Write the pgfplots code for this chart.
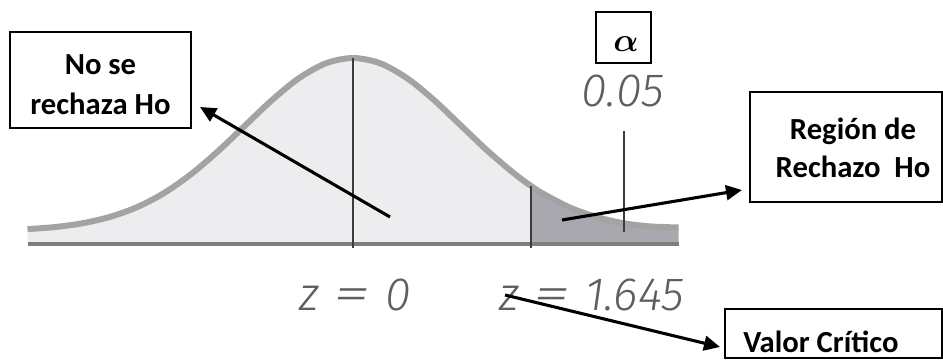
\documentclass[border=0pt]{standalone}
\usepackage{amsmath}
\usepackage{bm}
\usepackage{graphicx}
\usepackage{pgfplots}
\pgfplotsset{compat=1.18}
\usepackage{pgfplotstable}
\usepackage{fontspec}
\setmainfont{Carlito}
\newfontfamily\zfont{Fira Sans Light Italic}
\usetikzlibrary{arrows.meta}

\definecolor{areaA}{HTML}{EDEDF0}
\definecolor{areaR}{HTML}{A8A8AE}
\definecolor{curveC}{HTML}{A3A3A3}
\definecolor{baseC}{HTML}{7E7E7E}
\definecolor{lineC}{HTML}{3C3C3C}
\definecolor{labelC}{HTML}{5E5E5E}

% curva: z, altura sobre la base (px)
\pgfplotstableread{
z      y
-3.00  14.9
-2.75  16.9
-2.50  20.6
-2.25  26.8
-2.00  36.4
-1.75  50.4
-1.50  69.2
-1.25  92.2
-1.00  117.9
-0.75  143.6
-0.50  165.7
-0.25  180.7
0.00   186.0
0.25   180.7
0.50   165.7
0.75   143.6
1.00   117.9
1.25   92.2
1.50   69.2
1.645  57.7
1.75   50.4
2.00   36.4
2.25   26.8
2.50   20.6
2.75   17.5
3.00   16.5
}\curva

\newcommand{\ig}{\hspace{11pt}\scalebox{1.6}[1.05]{=}\hspace{11pt}}

\begin{document}
\begin{tikzpicture}
\begin{axis}[
    name=ax,
    width=707.25pt, height=270pt,
    scale only axis,
    hide axis,
    xmin=-3.2535, xmax=5.4378,
    ymin=-116, ymax=244,
    clip=false
]
% zona de no rechazo y zona de rechazo
\addplot[draw=none, fill=areaA, smooth, restrict x to domain=-3:1.645] table {\curva} \closedcycle;
\addplot[draw=none, fill=areaR, smooth, restrict x to domain=1.645:3] table {\curva} \closedcycle;
% curva normal
\addplot[curveC, line width=4.5pt, smooth] table {\curva};
% linea base
\addplot[baseC, line width=3pt] coordinates {(-3,0) (3,0)};
% lineas verticales
\addplot[lineC, line width=1.5pt] coordinates {(0,-4) (0,186)};
\addplot[lineC, line width=1.5pt] coordinates {(1.645,-4) (1.645,57.7)};
\addplot[lineC, line width=1.3pt] coordinates {(2.5,12) (2.5,113)};
\end{axis}

% anotaciones en pixeles (y hacia abajo)
\begin{scope}[shift={(ax.north west)}, x=0.75pt, y=-0.75pt]
  \node[labelC, font=\zfont\fontsize{35}{35}\selectfont] at (355,295) {z\ig 0};
  \node[labelC, font=\zfont\fontsize{35}{35}\selectfont] at (592,295) {z\ig 1.645};
  \node[labelC, font=\zfont\fontsize{35}{35}\selectfont] at (623,91) {0.05};

  \draw[line width=0.9pt] (10,32) rectangle (191,128);
  \node[align=center, font=\bfseries\fontsize{23}{30}\selectfont] at (100.5,85) {No se\\rechaza Ho};

  \draw[line width=0.9pt] (596,12) rectangle (651,63);
  \node[font=\fontsize{24}{24}\selectfont] at (626,44) {$\bm{\alpha}$};

  \draw[line width=0.9pt] (750,92) rectangle (942,202);
  \node[align=center, font=\bfseries\fontsize{23}{29}\selectfont] at (853,148) {Región de\\Rechazo\ \ Ho};

  \draw[line width=0.9pt] (942,358) -- (725,358) -- (725,309) -- (942,309) -- cycle;
  \node[anchor=base west, inner sep=0pt, font=\bfseries\fontsize{23}{23}\selectfont] at (743,353) {Valor Crítico};

  \draw[line width=2.3pt, -{Triangle[length=12pt,width=11pt]}] (390,217) -- (200,107);
  \draw[line width=2.3pt, -{Triangle[length=12pt,width=11pt]}] (562,220) -- (742,190);
  \draw[line width=2.3pt, -{Triangle[length=12pt,width=11pt]}] (505,295) -- (720,347);

  \pgfresetboundingbox
  \useasboundingbox (0,0) rectangle (943,360);
\end{scope}
\end{tikzpicture}
\end{document}
